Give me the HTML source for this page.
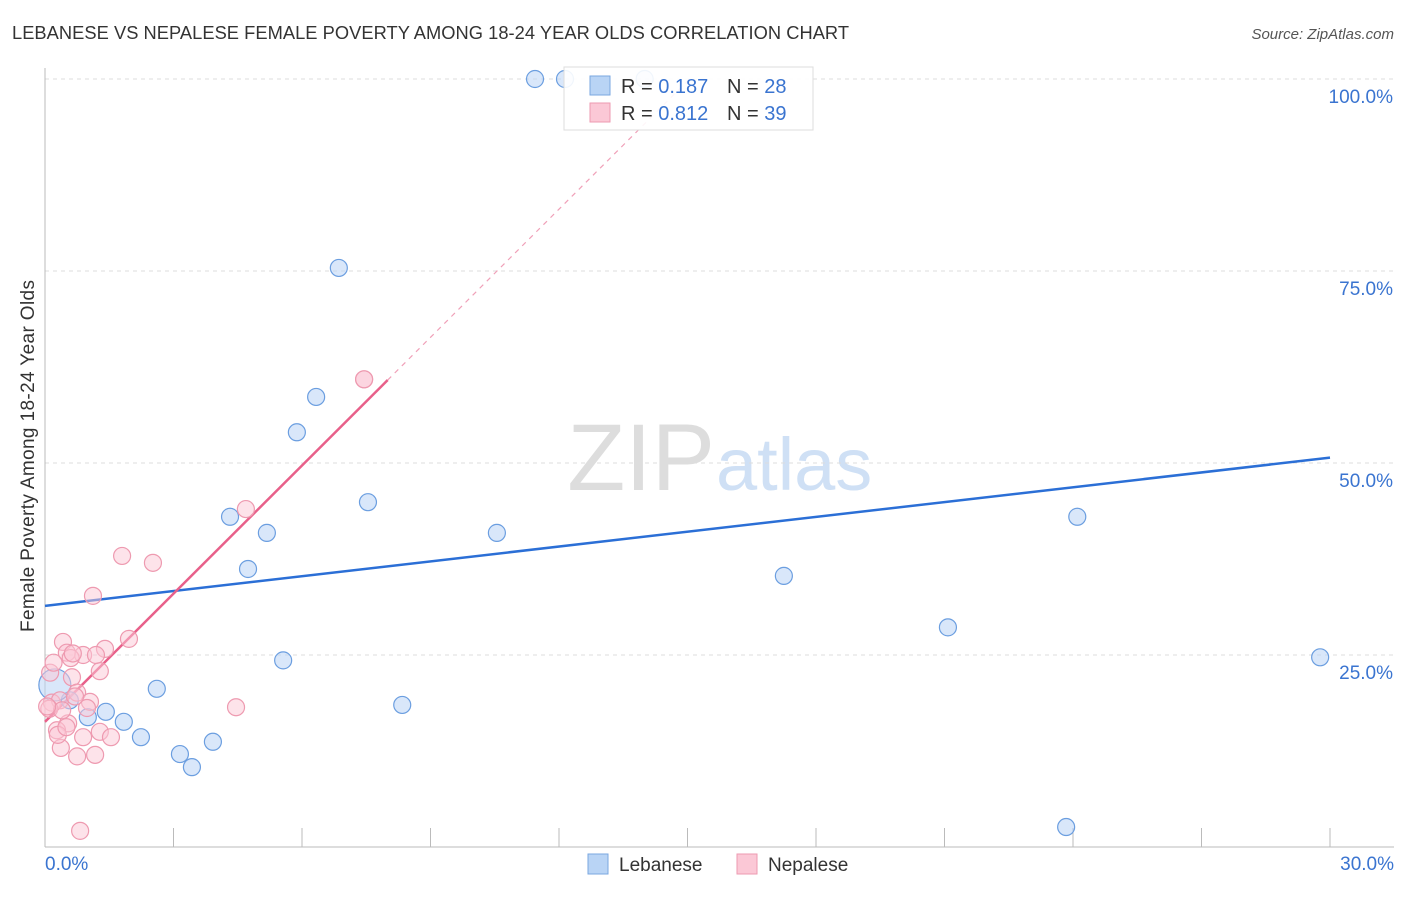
<!DOCTYPE html>
<html><head><meta charset="utf-8"><style>
body{margin:0;background:#fff;font-family:"Liberation Sans",sans-serif;}
svg text{font-family:"Liberation Sans",sans-serif;}
</style></head><body>
<svg id="chart" width="1406" height="892">
<text x="12" y="39" font-size="18.3" fill="#333" textLength="837">LEBANESE VS NEPALESE FEMALE POVERTY AMONG 18-24 YEAR OLDS CORRELATION CHART</text>
<text x="1394" y="39" font-size="15" fill="#555" font-style="italic" text-anchor="end">Source: ZipAtlas.com</text>
<text x="715" y="490" font-size="95" fill="#ddd" text-anchor="end" font-family="Liberation Serif">ZIP</text>
<text x="716" y="490" font-size="74" fill="#cfe0f5">atlas</text>
<text transform="translate(34,456) rotate(-90)" font-size="19" fill="#333" text-anchor="middle" textLength="352">Female Poverty Among 18-24 Year Olds</text>
<g id="grid"></g><g id="axes"></g><g id="lines"></g><g id="pts"></g>
<g>
<rect x="564" y="67" width="249" height="63" fill="rgba(255,255,255,0.9)" stroke="#ddd"/>
<rect x="590" y="76" width="20" height="19" fill="#b9d4f5" stroke="#7aa7e0"/>
<rect x="590" y="103" width="20" height="19" fill="#fbc8d6" stroke="#ee9ab0"/>
<text x="621" y="93" font-size="20" fill="#333">R = <tspan fill="#3a74d0">0.187</tspan></text>
<text x="727" y="93" font-size="20" fill="#333">N = <tspan fill="#3a74d0">28</tspan></text>
<text x="621" y="120" font-size="20" fill="#333">R = <tspan fill="#3a74d0">0.812</tspan></text>
<text x="727" y="120" font-size="20" fill="#333">N = <tspan fill="#3a74d0">39</tspan></text>
</g>
<g>
<rect x="588" y="854" width="20" height="20" fill="#b9d4f5" stroke="#7aa7e0"/>
<text x="619" y="871" font-size="19" fill="#333">Lebanese</text>
<rect x="737" y="854" width="20" height="20" fill="#fbc8d6" stroke="#ee9ab0"/>
<text x="768" y="871" font-size="19" fill="#333">Nepalese</text>
</g>
</svg>
<script>
const yTicks=[25,50,75,100];
const yTickLabels=["25.0%","50.0%","75.0%","100.0%"];
const xTickLabels=["0.0%","30.0%"];
const lebX=[11.44,12.14,14.0,6.86,6.33,5.88,7.54,4.32,5.18,10.55,24.1,4.74,17.25,21.08,5.56,29.77,2.61,8.34,1.42,1.0,1.84,2.24,3.15,3.43,3.92,23.84,0.58,0.23];
const lebY=[100,100,100,75.4,58.6,54.0,44.9,43.0,40.9,40.9,43.0,36.2,35.3,28.6,24.3,24.7,20.6,18.5,17.6,16.9,16.3,14.3,12.1,10.4,13.7,2.6,19.1,21.1];
const nepX=[1.8,2.52,1.12,0.42,0.89,0.51,1.4,1.96,1.28,0.63,0.12,0.75,1.05,0.16,0.98,4.46,0.54,0.28,0.89,1.28,1.54,0.37,0.75,1.17,0.82,4.69,7.45,7.45,0.35,1.19,0.6,0.7,0.1,0.4,0.3,0.05,0.65,0.2,0.5];
const nepY=[37.9,37.0,32.7,26.7,25,25.3,25.8,27.1,22.9,22.1,22.7,20.1,18.9,18.8,18.1,18.2,16.1,15.2,14.3,15,14.3,12.9,11.8,12,2.1,44.0,60.9,60.9,19.1,25,24.6,19.6,18.0,17.8,14.6,18.3,25.2,24.0,15.6];
const lebLine=[31.4,50.7];
const nepLine=[16.3,60.8];
const nepLineX=[0,8.0];
const X=v=>45+v*1285/30, Y=v=>847-v*7.68;
const NS="http://www.w3.org/2000/svg";
function mk(t,a,p){const e=document.createElementNS(NS,t);for(const k in a)e.setAttribute(k,a[k]);document.getElementById(p).appendChild(e);return e;}
yTicks.forEach((t,i)=>{
 const g=mk('line',{x1:45,x2:1394,y1:Y(t),y2:Y(t),stroke:'#ddd','stroke-dasharray':'4,4'},'grid');
 
 
 const l=mk('text',{x:1393,y:Y(t)+24,'font-size':19,fill:'#3a74d0','text-anchor':'end'},'axes');l.textContent=yTickLabels[i];
 
 
});
let a=mk('line',{x1:45,x2:45,y1:68,y2:847,stroke:'#bbb'},'axes');


a=mk('line',{x1:45,x2:1394,y1:847,y2:847,stroke:'#bbb'},'axes');


for(let i=1;i<=10;i++){const t=mk('line',{x1:X(i*3),x2:X(i*3),y1:828,y2:847,stroke:'#bbb'},'axes');
 
 }
let t0=mk('text',{x:45,y:870,'font-size':19,fill:'#3a74d0'},'axes');t0.textContent=xTickLabels[0];


let t1=mk('text',{x:1394,y:870,'font-size':19,fill:'#3a74d0','text-anchor':'end'},'axes');t1.textContent=xTickLabels[1];


lebX.forEach((x,i)=>{const c=mk('circle',{cx:X(x),cy:Y(lebY[i]),r:i==27?16:8.5,fill:'rgba(185,212,245,0.55)',stroke:'#6b9ee0','stroke-width':1.2},'pts');
 
 });
nepX.forEach((x,i)=>{const c=mk('circle',{cx:X(x),cy:Y(nepY[i]),r:8.5,fill:'rgba(251,200,214,0.5)',stroke:'#ee9ab0','stroke-width':1.2},'pts');
 
 });
const slope=(nepLine[1]-nepLine[0])/(nepLineX[1]-nepLineX[0]);
const xEnd=(100-nepLine[0])/slope;
let d=mk('line',{x1:X(nepLineX[1]),y1:Y(nepLine[1]),x2:X(xEnd),y2:Y(100),stroke:'#f0a0b8','stroke-dasharray':'5,5','stroke-width':1.2},'lines');


let bl=mk('line',{x1:X(0),y1:Y(lebLine[0]),x2:X(30),y2:Y(lebLine[1]),stroke:'#2b6fd6','stroke-width':2.5},'lines');


let pl=mk('line',{x1:X(nepLineX[0]),y1:Y(nepLine[0]),x2:X(nepLineX[1]),y2:Y(nepLine[1]),stroke:'#e8608a','stroke-width':2.5},'lines');


</script>
</body></html>
